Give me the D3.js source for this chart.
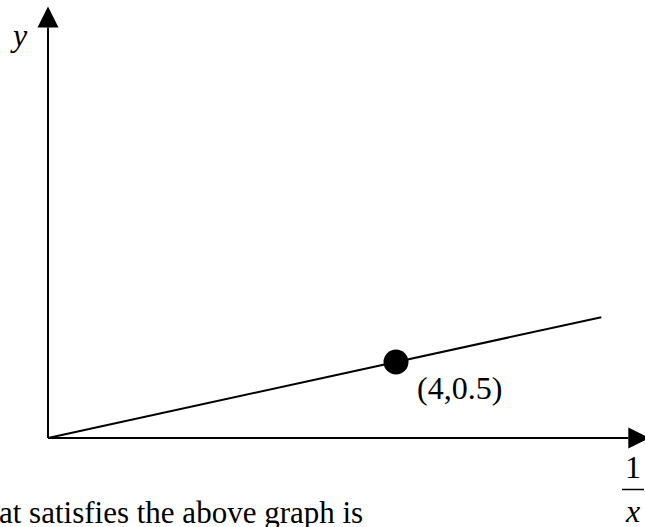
<!DOCTYPE html>
<html>
<head>
<meta charset="utf-8">
<script src="https://cdn.jsdelivr.net/npm/d3@7"></script>
<style>
  html, body { margin: 0; padding: 0; background: #fff; overflow: hidden; }
  svg { display: block; }
  text { font-family: "Liberation Serif", "Times New Roman", serif; fill: #000; }
</style>
</head>
<body>
<script>
// Graph of y against 1/x: a straight line through the origin and (4, 0.5)
const markedPoint = [4, 0.5];
const markedLabel = ["(4,0.5)"];
const lineInvX = [0, 6.36];          // 1/x at the two ends of the drawn line
const lineY = lineInvX.map(v => v * markedPoint[1] / markedPoint[0]);
const axisExtent = { x: 6.67, y: 2.7 }; // where the axis arrowheads start
const axisLabels = { y: "y", xNum: "1", xDen: "x" };
const caption = ["at satisfies the above graph is"];

const W = 645, H = 527;
const svg = d3.select("body").append("svg").attr("width", W).attr("height", H);

const x = d3.scaleLinear().domain([0, 1]).range([48, 135]);
const y = d3.scaleLinear().domain([0, 1]).range([438, 286]);

const ax = svg.append("g").attr("stroke", "#000").attr("stroke-width", 2);

// axes
ax.append("line")
  .attr("x1", x(0)).attr("y1", y(0))
  .attr("x2", x(axisExtent.x)).attr("y2", y(0));
ax.append("line")
  .attr("x1", x(0)).attr("y1", y(0))
  .attr("x2", x(0)).attr("y2", y(axisExtent.y));

// arrowheads
const ah = 21, hw = 10.5;
svg.append("path")
  .attr("d", `M${x(axisExtent.x)},${y(0) - hw}L${x(axisExtent.x) + ah},${y(0)}L${x(axisExtent.x)},${y(0) + hw}Z`)
  .attr("fill", "#000");
svg.append("path")
  .attr("d", `M${x(0) - hw},${y(axisExtent.y)}L${x(0)},${y(axisExtent.y) - ah}L${x(0) + hw},${y(axisExtent.y)}Z`)
  .attr("fill", "#000");

// the line
const pts = lineInvX.map((v, i) => [v, lineY[i]]);
svg.append("path")
  .datum(pts)
  .attr("d", d3.line().x(d => x(d[0])).y(d => y(d[1])))
  .attr("stroke", "#000").attr("stroke-width", 2).attr("fill", "none");

// marked point
svg.append("circle")
  .attr("cx", x(markedPoint[0])).attr("cy", y(markedPoint[1]))
  .attr("r", 12.5).attr("fill", "#000");
svg.append("text")
  .attr("x", x(markedPoint[0]) + 21).attr("y", y(markedPoint[1]) + 37)
  .attr("font-size", 32)
  .text(markedLabel[0]);

// axis labels
svg.append("text")
  .attr("x", 13).attr("y", 46)
  .attr("font-size", 32).attr("font-style", "italic")
  .text(axisLabels.y);
svg.append("text")
  .attr("x", 633).attr("y", 478)
  .attr("font-size", 32).attr("text-anchor", "middle")
  .text(axisLabels.xNum);
svg.append("line")
  .attr("x1", 622).attr("x2", 644).attr("y1", 489.5).attr("y2", 489.5)
  .attr("stroke", "#000").attr("stroke-width", 1.5);
svg.append("text")
  .attr("x", 633).attr("y", 522)
  .attr("font-size", 32).attr("font-style", "italic").attr("text-anchor", "middle")
  .text(axisLabels.xDen);

// caption line below the graph
svg.append("text")
  .attr("x", -1).attr("y", 523)
  .attr("font-size", 31)
  .text(caption[0]);
</script>
</body>
</html>
